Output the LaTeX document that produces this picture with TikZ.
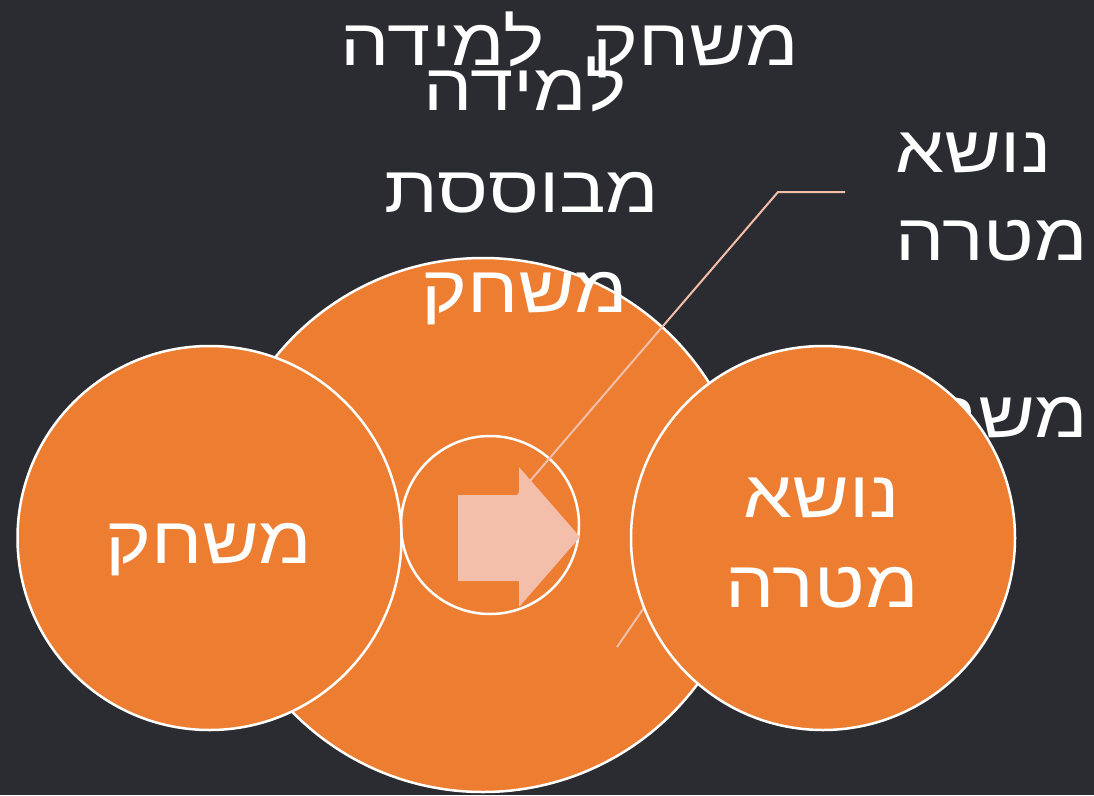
\documentclass[tikz,border=0pt]{standalone}
\usepackage{fontspec}
\newfontfamily\heb[Script=Hebrew,FakeStretch=1.18]{Liberation Sans}
\TeXXeTstate=1
\definecolor{bg}{HTML}{2B2C31}
\definecolor{org}{HTML}{ED7D31}
\definecolor{peach}{HTML}{F4BFAA}
\tikzset{
  disc/.style={circle, fill=org, draw=white, line width=2.5pt, inner sep=0pt},
  txt/.style={font=\heb\fontsize{66}{72}\selectfont, text=white, inner sep=0pt, anchor=base},
  lead/.style={draw=peach, line width=2pt},
}
\begin{document}
\begin{tikzpicture}[x=1pt,y=-1pt]
\fill[bg] (0,0) rectangle (1094,795);
\useasboundingbox (0,0) rectangle (1094,795);
% big circle
\node[disc, minimum size=534pt] (big) at (483,525) {};
\node[disc, minimum size=178pt, fill=none] (small) at (490,525) {};
% arrow
\fill[peach] (458,495) -- (519,495) -- (519,467) -- (580,537) -- (519,607) -- (519,581) -- (458,581) -- cycle;
% texts of big circle
\node[txt] (t1) at (570,65) {\beginR משחק\hspace{48pt}למידה\endR};
\node[txt] (t2) at (525,110) {\beginR למידה\endR};
\node[txt] (t3) at (522,212) {\beginR מבוססת\endR};
\node[txt] (t4) at (525,312) {\beginR משחק\endR};
% right texts
\node[txt, anchor=base west] (r1) at (895,172) {\beginR נושא\endR};
\node[txt, anchor=base west] (r2) at (895,260) {\beginR מטרה\endR};
\node[txt, anchor=base east] (r3) at (1088,437) {\beginR משחק\endR};
% leader lines
\coordinate (l1a) at (518,495);
\coordinate (l1b) at (778,192);
\coordinate (l1c) at (845,192);
\draw[lead] (l1a) -- (l1b) -- (l1c);
\coordinate (l2a) at (617,647);
\coordinate (l2b) at (650,599);
\draw[lead] (l2a) -- (l2b);
% side circles
\node[disc, minimum size=384pt] (left) at (209.5,538) {};
\node[disc, minimum size=384pt] (right) at (823,538) {};
\node[txt] (lt) at (209,563) {\beginR משחק\endR};
\node[txt] (rt1) at (822,517) {\beginR נושא\endR};
\node[txt] (rt2) at (822,607) {\beginR מטרה\endR};
\end{tikzpicture}
\end{document}
